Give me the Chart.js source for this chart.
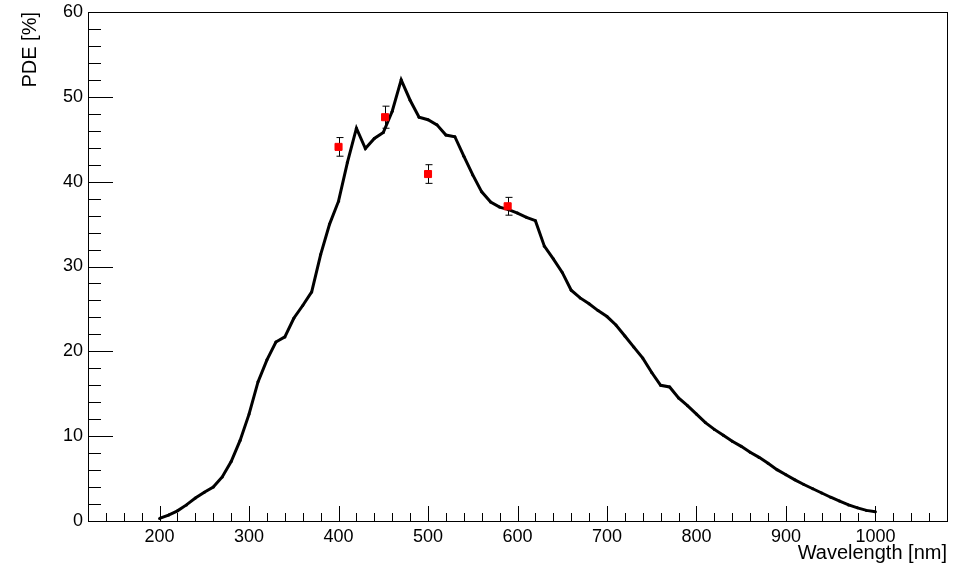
<!DOCTYPE html>
<html>
<head>
<meta charset="utf-8">
<script src="https://cdn.jsdelivr.net/npm/chart.js@4/dist/chart.umd.min.js"></script>
<style>
    html, body { margin: 0; padding: 0; background: #fff; }
    canvas { display: block; }
</style>
</head>
<body>
<canvas id="grafico_pde" width="972" height="574"></canvas>
<script>
/* Curva de PDE medida (preta) */
const comprimentos_onda = [
    200, 210, 220, 230, 240, 250, 260, 270, 280, 290,
    300, 310, 320, 330, 340, 350, 360, 370, 380, 390,
    400, 410, 420, 430, 440, 450, 460, 470, 480, 490,
    500, 510, 520, 530, 540, 550, 560, 570, 580, 590,
    600, 610, 620, 630, 640, 650, 660, 670, 680, 690,
    700, 710, 720, 730, 740, 750, 760, 770, 780, 790,
    800, 810, 820, 830, 840, 850, 860, 870, 880, 890,
    900, 910, 920, 930, 940, 950, 960, 970, 980, 990,
    1000
];
const pde_curva = [
    0.3, 0.7, 1.2, 1.9, 2.7, 3.4, 4.0, 5.2, 7.0, 9.5,
    12.6, 16.4, 19.0, 21.1, 21.7, 23.9, 25.4, 27.0, 31.4, 35.0,
    37.7, 42.3, 46.3, 43.9, 45.1, 45.8, 48.3, 52.0, 49.6, 47.6,
    47.3, 46.7, 45.5, 45.3, 43.0, 40.8, 38.8, 37.6, 37.0, 36.7,
    36.3, 35.8, 35.4, 32.4, 30.9, 29.3, 27.2, 26.3, 25.6, 24.8,
    24.1, 23.1, 21.8, 20.5, 19.2, 17.5, 16.0, 15.8, 14.5, 13.6,
    12.6, 11.6, 10.8, 10.1, 9.4, 8.8, 8.1, 7.5, 6.8, 6.05,
    5.45, 4.85, 4.3, 3.8, 3.3, 2.8, 2.35, 1.9, 1.55, 1.25,
    1.1
];

/* Pontos com laser (vermelhos) */
const comprimentos_laser = [400, 452, 500, 589];
const pde_laser = [44.1, 47.6, 40.9, 37.1];
const erro_laser = [1.1, 1.3, 1.1, 1.05];

const fonte = { family: "'Liberation Sans', Arial, sans-serif", size: 18 };
const fonte_titulo = { family: "'Liberation Sans', Arial, sans-serif", size: 20 };

/* ticks para dentro, estilo ROOT, e a moldura */
const plugin_ticks = {
    id: 'plugin_ticks',
    beforeDatasetsDraw(chart) {
        const ctx = chart.ctx;
        const area = chart.chartArea;
        const eixo_x = chart.scales.x;
        const eixo_y = chart.scales.y;
        ctx.save();
        ctx.strokeStyle = '#000';
        ctx.lineWidth = 1;
        ctx.beginPath();
        eixo_x.ticks.forEach(function (t) {
            const px = Math.round(eixo_x.getPixelForValue(t.value)) + 0.5;
            const len = Math.abs(t.value % 100) < 1e-6 ? 15 : 8;
            ctx.moveTo(px, area.bottom);
            ctx.lineTo(px, area.bottom - len);
        });
        eixo_y.ticks.forEach(function (t) {
            const py = Math.round(eixo_y.getPixelForValue(t.value)) + 0.5;
            const len = Math.abs(t.value % 10) < 1e-6 ? 25 : 13;
            ctx.moveTo(area.left, py);
            ctx.lineTo(area.left + len, py);
        });
        ctx.stroke();
        ctx.strokeRect(area.left + 0.5, area.top + 0.5, area.right - area.left, area.bottom - area.top);
        ctx.restore();
    }
};

/* barras de erro dos pontos vermelhos */
const plugin_erros = {
    id: 'plugin_erros',
    beforeDatasetDraw(chart, args) {
        const ds = chart.data.datasets[args.index];
        if (!ds.erros) return;
        const ctx = chart.ctx;
        const eixo_x = chart.scales.x;
        const eixo_y = chart.scales.y;
        ctx.save();
        ctx.strokeStyle = '#000';
        ctx.lineWidth = 1;
        ctx.beginPath();
        ds.data.forEach(function (p, i) {
            const px = Math.round(eixo_x.getPixelForValue(p.x)) + 0.5;
            const topo = eixo_y.getPixelForValue(p.y + ds.erros[i]);
            const base = eixo_y.getPixelForValue(p.y - ds.erros[i]);
            ctx.moveTo(px, topo);
            ctx.lineTo(px, base);
            ctx.moveTo(px - 3, topo);
            ctx.lineTo(px + 4, topo);
            ctx.moveTo(px - 3, base);
            ctx.lineTo(px + 4, base);
        });
        ctx.stroke();
        ctx.restore();
    }
};

const data_pde = {
    datasets: [{
        label: 'Laser',
        data: comprimentos_laser.map((x, i) => ({ x: x, y: pde_laser[i] })),
        erros: erro_laser,
        showLine: false,
        pointStyle: 'rect',
        pointRadius: 5,
        backgroundColor: 'rgb(255, 0, 0)',
        borderColor: 'rgb(255, 0, 0)',
        borderWidth: 1
    }, {
        label: 'PDE',
        data: comprimentos_onda.map((x, i) => ({ x: x, y: pde_curva[i] })),
        borderColor: '#000',
        backgroundColor: '#000',
        borderWidth: 3,
        pointRadius: 1.5,
        pointBorderWidth: 0,
        tension: 0
    }]
};

const config_pde = {
    type: 'line',
    data: data_pde,
    options: {
        responsive: false,
        animation: false,
        layout: { padding: { top: 12, right: 25, bottom: 0, left: 0 } },
        plugins: {
            legend: { display: false },
            tooltip: { enabled: false }
        },
        scales: {
            x: {
                type: 'linear',
                min: 120,
                max: 1080,
                grid: { display: false, drawTicks: false },
                border: { display: false },
                ticks: {
                    stepSize: 20,
                    autoSkip: false,
                    maxRotation: 0,
                    padding: 5,
                    color: '#000',
                    font: fonte,
                    callback: v => Math.abs(v % 100) < 1e-6 ? v : ''
                },
                title: {
                    display: true,
                    text: 'Wavelength [nm]',
                    align: 'end',
                    color: '#000',
                    font: fonte_titulo,
                    padding: { top: 0, bottom: 9 }
                },
                afterFit: s => { s.height = 53; s.paddingLeft = 0; s.paddingRight = 0; }
            },
            y: {
                min: 0,
                max: 60,
                grid: { display: false, drawTicks: false },
                border: { display: false },
                ticks: {
                    stepSize: 2,
                    autoSkip: false,
                    padding: 5,
                    color: '#000',
                    font: fonte,
                    callback: v => Math.abs(v % 10) < 1e-6 ? v : ''
                },
                title: {
                    display: true,
                    text: 'PDE [%]',
                    align: 'end',
                    color: '#000',
                    font: fonte_titulo,
                    padding: { top: 18, bottom: 0 }
                },
                afterFit: s => { s.width = 88; s.paddingTop = 0; s.paddingBottom = 0; }
            }
        }
    },
    plugins: [plugin_ticks, plugin_erros]
};

const grafico_pde = new Chart(
    document.getElementById('grafico_pde'),
    config_pde
);
</script>
</body>
</html>
